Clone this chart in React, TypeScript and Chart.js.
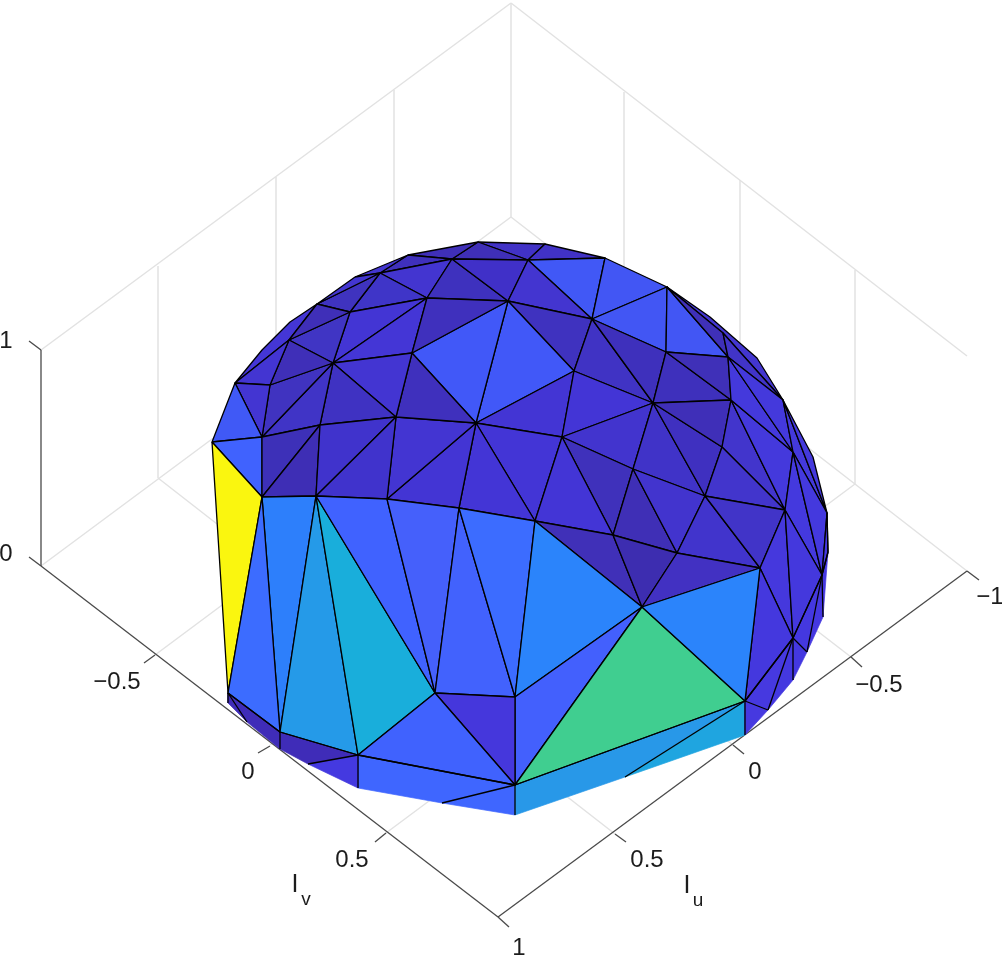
import React, { useEffect, useRef } from "react";
import { Chart, registerables } from "chart.js";

Chart.register(...registerables);

// Surface vertices, in view-plane units.
const vertexIds = ["a","b","c","d","e","f","g","h","i","j","k","l","m","n","o","p","q","r","s","t","u","v","w","x","y","z","aa","ee","ff","gg","hh","ii","jj","kk","ll","mm","nn","oo","pp","qq","rr","ss","tt","uu","vv","ww","xx","yy"];
const vertexX = [478,545,452,528,605,408,380,355,427,508,350,317,289,333,412,270,235,262,212,320,396,476,262,316,387,459,535,667,592,666,723,728,574,653,731,562,722,793,783,633,705,785,613,677,760,642,822,827];
const vertexY = [242,244,259,260,258,255,273,277,298,301,312,304,340,363,353,385,383,437,442,425,417,423,497,496,499,508,521,287,319,352,333,357,371,403,400,437,447,452,400,469,496,510,535,553,568,607,575,513];
const lowerIds = ["A","B","C","D","E","F","G","H","I","J","K","L","M","N","O","P","Q","R","S","T","U","V","W","X1","X2","X3","X4"];
const lowerX = [745,228,280,435,515,358,515,228,280,308,358,442,515,625,745,768,793,793,807,823,828,813,247,710,757,290,262];
const lowerY = [701,693,732,693,697,755,785,703,749,764,788,803,815,777,735,710,638,680,652,617,552,457,722,317,358,322,350];

// Faces with a full black outline, with their colours.
const faces = [
  "ee X1 X2 pp hh","q X4 X3 l m",
  "a b d","a c d","f a c","f c g","h f g","c g i","c i j","c d j","d b e","d e ff","e ee ff","ff ee gg","ee gg ii","ee hh ii","hh ii pp","d ff j","j ff jj","ff jj kk","ff gg kk","gg ll kk","gg ii ll","j jj v","j o v","jj v mm","jj mm kk","mm kk qq","kk qq rr","kk nn rr","kk ll nn","ll nn ss","nn rr ss","ll ss oo","ii ll oo","ii pp oo","pp oo yy","pp yy V","oo ss xx","oo xx yy","yy xx U","mm qq tt","qq tt uu","qq uu rr","rr uu vv","rr vv ss","ss vv Q","vv A Q","ss xx Q","v mm aa","mm aa tt","v z aa","y v z","u y v","aa tt ww","tt uu ww","uu vv ww","g k i","g k l","h g l","k i n","k m n","l k m","i o n","i o j","o u v","n o u","n u t","n t r","n r p","m p n","m q p","p q r","q s r","s r w","s w B","r t w","t w x","t x u","x u y",
  "w x C","w C B","x C F","x F D","x y D","y z D","z D E","z aa E","aa ww E","E ww G","ww A G","ww vv A","D E G","D F G"
];
const faceColors = [
  "#4336d0","#4436d6",
  "#4132c6","#3f2fb8","#3f2fb8","#3f30bc","#4336d0","#4335d0","#3e31be","#4030c8","#4132c6","#4158f6","#4256f4","#4256f4","#4256f4","#3f30b8","#4134c8","#4335d0","#3f32bf","#4033c4","#3e30bc","#3e30bc","#3f30b8","#4158f8","#4158f8","#4335d4","#4335d6","#4234ce","#4033c8","#3f30c0","#3f2fb8","#4235cc","#4235cc","#4439dc","#4439dc","#4439dc","#4439dc","#4439dc","#4439de","#4439de","#4538e0","#3f31bb","#3f2fb6","#4234ce","#4134cc","#4134c8","#4538dd","#4438de","#4438dd","#4335d6","#4335d6","#4335d6","#4335d4","#4335d2","#4030b8","#3d2db0","#4231c2","#3f35c8","#3f33bf","#4336d0","#4335d4","#4035c4","#3f2fb8","#4436d6","#3f30bd","#3f30bd","#4335d2","#3f32c2","#4034c6","#4033c0","#3f2fb8","#4335d2","#4335d2","#4059f6","#4062fe","#faf60f","#3d30b8","#3e2eb5","#4033cc","#4033cc",
  "#2d7ffb","#3c6cff","#259ae8","#19aedb","#4062ff","#4560fb","#4262fd","#3c6cff","#2b84fb","#4360fd","#40ce90","#2b84fb","#4537dc","#4062fe"
];

// Rim faces along the lower silhouette: filled, with only some edges black.
const rimFaces = ["F G L K","G L M","F K J","C F J I","B C I W","B H W","G A N M","N A O","A O P","A P Q","P R Q","Q R S","Q S xx","xx S T","xx T U"];
const rimColors = ["#3f66ff","#3f66ff","#4439e0","#3f2cb8","#3f2cb8","#3f2cb8","#2898e8","#1fa5e0","#4639e0","#4639e0","#4438e0","#4438e0","#4438e0","#4538e0","#4538e0"];
const rimEdges = ["F G","G L","F K","G M","F J","C F","C I","B C","B H","B W","G A","N A","A O","A P","A Q","P Q","Q R","Q S","Q xx","S xx","xx T","xx U","U yy"];

// Axis box
const boxLinesX = [[511,511],[41,511],[511,967],[511,41],[511,967]];
const boxLinesY = [[3,217],[350,3],[3,356],[217,566],[217,571]];
const gridLinesX = [[158,158],[276,276],[394,394],[624,624],[740,740],[855,855],[155,625],[270,740],[386,855],[851,393],[733,276],[615,158]];
const gridLinesY = [[266,478],[177,391],[90,304],[92,305],[180,395],[270,484],[655,305],[745,395],[833,484],[657,304],[745,391],[834,478]];
const axisLinesX = [[41,41],[41,498],[498,967],[41,29],[41,29],[155,144],[270,258],[386,375],[851,862],[733,744],[615,626],[967,979],[498,509]];
const axisLinesY = [[350,566],[566,917],[917,571],[350,341],[566,557],[655,663],[746,753],[833,842],[657,667],[745,754],[834,842],[571,580],[917,927]];

const tickLabels = ["1","0","\u22120.5","0","0.5","1","\u22121","\u22120.5","0","0.5"];
const tickLabelX = [6,6,117,248,352,519,990,879,755,647];
const tickLabelY = [341,554,682,772,860,948,597,685,772,860];
const axisTitles = ["I","I"];
const axisSubs = ["v","u"];
const axisTitleX = [295,687];
const axisTitleY = [885,886];

export default function App() {
  const ref = useRef<HTMLCanvasElement>(null);
  useEffect(() => {
    document.body.style.margin = "0";
    const idx = new Map<string, { x: number; y: number }>();
    vertexIds.forEach((id, i) => idx.set(id, { x: vertexX[i], y: vertexY[i] }));
    lowerIds.forEach((id, i) => idx.set(id, { x: lowerX[i], y: lowerY[i] }));

    const line = (xs: number[], ys: number[], color: string, w: number, order: number) => ({
      data: xs.map((x, i) => ({ x, y: ys[i] })),
      showLine: true, borderColor: color, borderWidth: w, pointRadius: 0, fill: false, order, tension: 0,
    });

    const polygon = (f: string, fill: string, edge: string, w: number, order: number) => {
      const pts = f.split(" ").map((n) => idx.get(n)!);
      pts.push(pts[0]);
      return {
        data: pts, showLine: true, borderColor: edge, borderWidth: w, borderJoinStyle: "round",
        pointRadius: 0, tension: 0, fill: "shape", backgroundColor: fill, order,
      };
    };

    const faceSets = faces.map((f, i) => polygon(f, faceColors[i], "#000000", 1.3, 100 - i / 1000));
    const rimSets = rimFaces.map((f, i) => polygon(f, rimColors[i], rimColors[i], 0.7, 120 - i / 1000));
    const edgeSets = rimEdges.map((e) => {
      const pts = e.split(" ").map((n) => idx.get(n)!);
      return line(pts.map((p) => p.x), pts.map((p) => p.y), "#000000", 1.3, 50);
    });

    const textPlugin = {
      id: "texts",
      afterDraw(c: any) {
        const g = c.ctx, sx = c.scales.x, sy = c.scales.y;
        g.save();
        g.fillStyle = "#1c1c1c";
        g.textAlign = "center";
        g.textBaseline = "middle";
        g.font = '24px "Liberation Sans"';
        tickLabels.forEach((t, i) => g.fillText(t, sx.getPixelForValue(tickLabelX[i]), sy.getPixelForValue(tickLabelY[i])));
        axisTitles.forEach((t, i) => {
          const x = sx.getPixelForValue(axisTitleX[i]), y = sy.getPixelForValue(axisTitleY[i]);
          g.font = '25px "Liberation Sans"';
          g.fillText(t, x, y);
          g.font = '19px "Liberation Sans"';
          g.fillText(axisSubs[i], x + 11, y + 15);
        });
        g.restore();
      },
    };

    const chart = new Chart(ref.current!, {
      type: "scatter",
      data: {
        datasets: [
          ...faceSets,
          ...rimSets,
          ...edgeSets,
          ...boxLinesX.map((xs, i) => line(xs, boxLinesY[i], "#e2e2e2", 1.5, 300)),
          ...gridLinesX.map((xs, i) => line(xs, gridLinesY[i], "#e2e2e2", 1.5, 300)),
          ...axisLinesX.map((xs, i) => line(xs, axisLinesY[i], "#4a4a4a", 1.3, 200)),
        ] as any,
      },
      options: {
        animation: false,
        responsive: false,
        layout: { padding: 0 },
        plugins: { legend: { display: false }, tooltip: { enabled: false } },
        scales: {
          x: { type: "linear", min: 0, max: 1002, display: false },
          y: { type: "linear", min: 0, max: 959, reverse: true, display: false },
        },
      },
      plugins: [textPlugin],
    } as any);
    return () => chart.destroy();
  }, []);
  return <canvas ref={ref} width={1002} height={959} style={{ display: "block" }} />;
}
